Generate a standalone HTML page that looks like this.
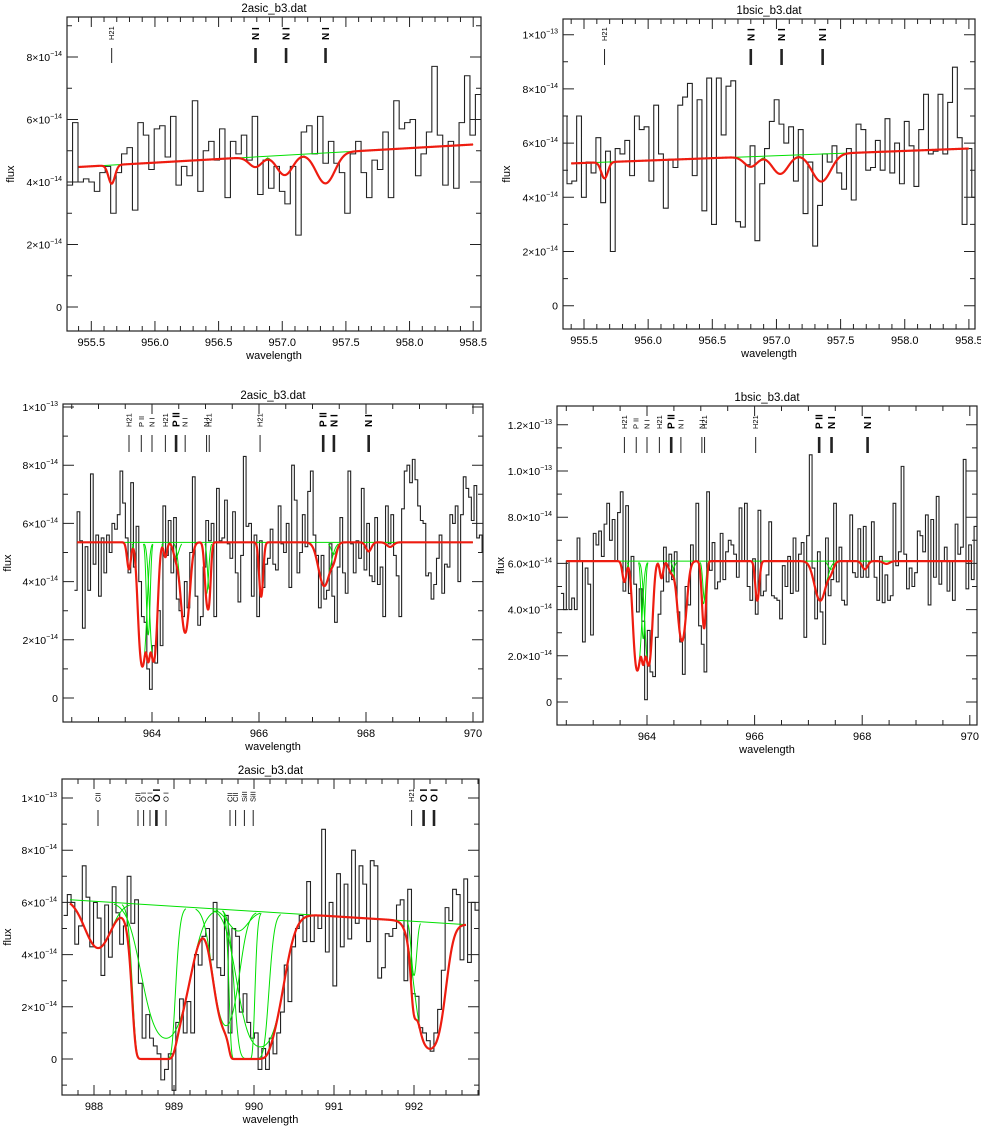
<!DOCTYPE html>
<html><head><meta charset="utf-8">
<style>
html,body{margin:0;padding:0;background:#fff;}
svg{display:block;font-family:"Liberation Sans",sans-serif;}
</style></head>
<body>
<svg id="chart" width="981" height="1127" viewBox="0 0 981 1127" xmlns="http://www.w3.org/2000/svg">
<rect x="0" y="0" width="981" height="1127" fill="#fff"/>
</svg>
<script>
// ---------- Panel 1 : 2asic_b3.dat (955-958.5) ----------
const p1Flux=[3.9,5.9,4.0,4.1,4.0,3.7,4.3,4.5,3.0,4.3,4.9,5.1,3.1,5.9,5.5,4.4,5.7,5.8,4.8,6.1,3.9,4.5,4.2,6.6,3.7,5.0,5.3,4.7,5.7,3.5,5.3,4.9,5.5,4.7,6.1,3.6,4.7,3.8,4.5,3.7,3.3,4.5,2.3,5.6,5.8,4.9,6.1,4.6,5.3,4.6,4.3,3.0,4.9,5.3,4.3,3.5,4.7,4.4,5.6,3.5,6.6,5.7,5.9,6.0,4.2,4.9,5.6,7.7,5.5,3.9,5.3,3.8,5.9,7.4,5.5,6.8];
const p1Range=[955.31,958.56];
const p1Cont=[4.48,5.2];
const p1ModelRange=[955.4,958.5];
const p1LineCenter=[955.66,956.79,957.02,957.34];
const p1LineTau=[0.14,0.07,0.14,0.22];
const p1LineSigma=[0.025,0.05,0.06,0.07];
const p1MarkWl=[955.66,956.79,957.03,957.34];
const p1MarkLabel=["H21","N I","N I","N I"];
const p1MarkBold=[0,1,1,1];
const p1XTicks=[955.5,956.0,956.5,957.0,957.5,958.0,958.5];
const p1XLabels=["955.5","956.0","956.5","957.0","957.5","958.0","958.5"];
const p1YTicks=[0,2,4,6,8];
const p1YLabels=["0","2×10^-14","4×10^-14","6×10^-14","8×10^-14"];

// ---------- Panel 2 : 1bsic_b3.dat (955-958.5) ----------
const p2Flux=[7.0,4.5,4.6,7.0,4.0,5.3,4.9,6.2,3.8,5.7,2.0,5.8,5.6,6.1,4.8,7.0,6.5,6.6,4.6,7.4,5.6,3.6,5.4,5.1,7.4,7.7,8.2,4.8,7.6,3.5,8.4,3.0,8.4,6.3,8.1,8.3,3.1,2.9,5.2,5.9,2.4,4.5,5.8,6.8,7.6,6.7,6.0,6.6,4.6,6.5,3.4,5.3,2.2,3.7,5.6,5.3,5.9,4.9,4.3,5.8,3.9,6.7,6.5,5.0,5.1,6.1,5.0,6.9,4.9,6.0,4.5,6.8,5.9,4.4,6.5,7.8,5.6,5.7,7.8,5.6,7.5,8.8,6.2,3.0,5.8,4.0];
const p2Range=[955.33,958.56];
const p2Cont=[5.25,5.8];
const p2ModelRange=[955.4,958.5];
const p2LineCenter=[955.66,956.8,957.03,957.35];
const p2LineTau=[0.12,0.07,0.13,0.2];
const p2LineSigma=[0.025,0.05,0.06,0.07];
const p2MarkWl=[955.66,956.8,957.04,957.36];
const p2MarkLabel=["H21","N I","N I","N I"];
const p2MarkBold=[0,1,1,1];
const p2XTicks=[955.5,956.0,956.5,957.0,957.5,958.0,958.5];
const p2XLabels=["955.5","956.0","956.5","957.0","957.5","958.0","958.5"];
const p2YTicks=[0,2,4,6,8,10];
const p2YLabels=["0","2×10^-14","4×10^-14","6×10^-14","8×10^-14","1×10^-13"];

// ---------- Panel 3 : 2asic_b3.dat (962.5-970) ----------
const p3Flux=[3.7,6.4,5.4,2.4,5.2,3.7,7.7,4.6,5.6,
3.5,5.5,4.3,5.6,5.0,6.0,5.8,6.3,7.8,6.7,
5.5,4.3,7.4,4.5,5.9,4.0,2.8,2.6,1.0,0.3,
1.8,1.2,3.0,1.8,6.6,4.9,6.1,4.3,6.2,3.4,
3.0,2.8,4.0,3.1,5.0,7.6,3.5,2.5,2.8,4.5,
6.1,5.4,6.0,2.8,7.2,5.4,5.5,6.8,5.3,4.8,
6.4,4.3,3.3,4.9,8.3,5.9,6.0,3.5,5.6,2.8,
5.4,3.8,4.6,4.8,5.8,4.6,4.4,6.6,5.3,5.0,
6.0,3.8,8.0,6.8,4.3,5.0,6.3,5.2,7.1,7.8,
5.6,4.9,3.1,4.9,3.4,3.7,5.3,3.5,2.6,4.5,
6.2,4.3,3.6,7.8,5.3,4.3,5.4,4.8,7.2,4.4,
6.0,4.2,4.0,6.2,3.9,4.5,2.8,6.6,5.3,6.3,
4.9,4.2,2.8,6.5,7.8,8.0,7.4,8.2,7.5,6.6,
6.1,6.0,4.2,4.3,3.4,3.9,4.8,5.6,3.6,4.6,
4.5,6.3,6.0,6.6,4.0,6.3,7.6,7.2,6.9,6.1,7.3,5.5,5.6,5.0];
const p3Range=[962.55,970.22];
const p3Cont=[5.35,5.35];
const p3ModelRange=[962.6,970.0];
const p3LineCenter=[963.57,963.82,963.93,964.03,964.25,964.45,964.62,965.02,965.07,966.04,967.22,967.40,968.05,968.45];
const p3LineTau=[0.19,1.6,0.9,1.45,0.1,0.1,0.87,0.4,0.36,0.43,0.33,0.08,0.06,0.03];
const p3LineSigma=[0.035,0.06,0.03,0.055,0.03,0.05,0.07,0.035,0.03,0.035,0.1,0.05,0.05,0.06];
const p3MarkWl=[963.57,963.8,964.0,964.25,964.45,964.62,965.02,965.07,966.02,967.2,967.4,968.05];
const p3MarkLabel=["H21","P II","N I","H21","P II","N I","N I","H21","H21","P II","N I","N I"];
const p3MarkBold=[0,0,0,0,1,0,0,0,0,1,1,1];
const p3XTicks=[964,966,968,970];
const p3XLabels=["964","966","968","970"];
const p3YTicks=[0,2,4,6,8,10];
const p3YLabels=["0","2×10^-14","4×10^-14","6×10^-14","8×10^-14","1×10^-13"];

// ---------- Panel 4 : 1bsic_b3.dat (962.5-970) ----------
const p4Flux=[4.7,4.0,6.1,4.0,4.5,4.0,7.1,6.1,2.6,5.8,5.1,2.9,
7.3,6.8,7.4,6.3,7.7,8.6,7.0,7.9,6.1,8.2,
9.1,4.8,8.5,4.7,6.3,5.1,3.9,4.9,3.5,0.1,
3.1,1.3,1.1,2.8,3.8,4.8,6.7,5.2,6.4,5.3,
6.5,3.9,2.6,1.2,5.0,4.2,6.8,6.1,8.6,3.3,
2.5,1.3,9.1,5.7,6.9,4.9,5.2,7.3,5.3,6.5,
7.0,6.8,6.4,5.4,8.4,6.1,8.6,5.0,4.4,6.2,
3.8,8.3,4.6,4.8,5.5,7.8,4.6,4.5,4.4,3.6,
5.9,5.0,6.3,4.7,7.1,4.8,6.4,6.9,2.8,7.2,
10.7,5.8,3.6,6.5,3.9,2.5,7.1,4.6,5.3,8.6,
5.2,6.7,4.4,4.2,6.1,8.1,5.6,5.4,7.5,5.4,
7.6,5.4,6.1,7.8,5.4,4.4,6.3,4.3,5.5,4.4,
4.6,8.6,5.9,6.5,10.2,6.4,4.9,5.8,5.0,5.6,
7.4,7.2,6.5,8.1,4.2,7.9,5.4,8.9,5.1,6.1,
6.7,4.8,6.1,4.4,7.7,6.4,6.7,10.5,4.9,6.8,5.3,7.6];
const p4Range=[962.4,970.13];
const p4Cont=[6.1,6.1];
const p4ModelRange=[962.5,970.05];
const p4LineCenter=[963.58,963.82,963.93,964.03,964.27,964.45,964.65,965.05,965.07,966.05,967.22,967.42,968.05,968.45];
const p4LineTau=[0.16,1.5,0.8,1.35,0.13,0.08,0.84,0.36,0.32,0.33,0.33,0.06,0.06,0.02];
const p4LineSigma=[0.035,0.06,0.03,0.055,0.03,0.05,0.07,0.035,0.03,0.035,0.1,0.05,0.05,0.06];
const p4MarkWl=[963.58,963.8,964.0,964.23,964.45,964.63,965.02,965.07,966.02,967.2,967.43,968.1];
const p4MarkLabel=["H21","P II","N I","H21","P II","N I","N I","H21","H21","P II","N I","N I"];
const p4MarkBold=[0,0,0,0,1,0,0,0,0,1,1,1];
const p4XTicks=[964,966,968,970];
const p4XLabels=["964","966","968","970"];
const p4YTicks=[0,2,4,6,8,10,12];
const p4YLabels=["0","2.0×10^-14","4.0×10^-14","6.0×10^-14","8.0×10^-14","1.0×10^-13","1.2×10^-13"];

// ---------- Panel 5 : 2asic_b3.dat (988-992.5) ----------
const p5Flux=[5.5,6.3,6.0,4.4,5.1,7.4,6.2,4.3,6.0,5.4,
3.2,5.9,3.9,6.6,5.6,4.4,5.1,7.0,5.2,6.1,
2.9,0.8,1.7,0.8,0.5,0.2,-0.8,-0.4,0.2,-1.2,
1.4,2.3,1.0,2.2,1.0,4.0,3.6,4.7,5.0,3.8,
6.0,3.5,3.2,5.5,1.0,5.0,4.7,1.8,2.5,1.4,
0.8,1.0,-0.4,0.4,-0.4,0.8,0.2,1.0,1.8,3.6,
2.2,4.3,5.0,5.5,4.5,6.8,4.5,5.5,5.0,8.8,
4.1,6.0,2.8,7.1,4.3,6.7,4.6,8.0,5.2,7.4,
6.7,4.5,7.6,7.4,3.1,3.5,4.8,4.7,5.0,5.9,
6.1,3.0,6.5,2.5,2.4,1.2,1.0,0.7,0.3,1.0,
1.9,3.4,5.8,5.3,6.5,6.3,3.8,6.9,3.7,6.0,5.7];
const p5Range=[987.62,992.81];
const p5Cont=[6.1,5.15];
const p5ModelRange=[987.7,992.65];
const p5LineCenter=[988.05,988.9,988.75,989.8,989.65,989.85,989.97,990.08,992.0,992.2];
const p5LineTau=[0.35,2.0,30,0.15,1.5,30,8,2.5,0.5,2.6];
const p5LineSigma=[0.15,0.2,0.1,0.12,0.12,0.06,0.1,0.18,0.03,0.12];
const p5MarkWl=[988.05,988.55,988.62,988.7,988.78,988.9,989.7,989.77,989.88,989.99,991.97,992.12,992.25];
const p5MarkLabel=["CII","CII","O I","O I","O I","O I","CII","CII","SiII","SiII","H21","O I","O I"];
const p5MarkBold=[0,0,0,0,1,0,0,0,0,0,0,1,1];
const p5XTicks=[988,989,990,991,992];
const p5XLabels=["988","989","990","991","992"];
const p5YTicks=[0,2,4,6,8,10];
const p5YLabels=["0","2×10^-14","4×10^-14","6×10^-14","8×10^-14","1×10^-13"];

const NS="http://www.w3.org/2000/svg";
const svg=document.getElementById('chart');
function el(tag,attrs,parent){const e=document.createElementNS(NS,tag);for(const k in attrs)e.setAttribute(k,attrs[k]);(parent||svg).appendChild(e);return e;}

const panels=[
 {id:'p1',title:'2asic_b3.dat',fr:[67,17,481,331],w0:955.5,x0:91.3,sx:127.3,y0:307,sy:31.25,xMinor:0.1,yMinor:1,flux:p1Flux,range:p1Range,cont:p1Cont,mr:p1ModelRange,lc:p1LineCenter,lt:p1LineTau,ls:p1LineSigma,mw:p1MarkWl,ml:p1MarkLabel,mb:p1MarkBold,xt:p1XTicks,xl:p1XLabels,yt:p1YTicks,yl:p1YLabels,mk:[48,63,40]},
 {id:'p2',title:'1bsic_b3.dat',fr:[563,19,975,329],w0:955.5,x0:584,sx:128.3,y0:305.7,sy:27.1,xMinor:0.1,yMinor:1,flux:p2Flux,range:p2Range,cont:p2Cont,mr:p2ModelRange,lc:p2LineCenter,lt:p2LineTau,ls:p2LineSigma,mw:p2MarkWl,ml:p2MarkLabel,mb:p2MarkBold,xt:p2XTicks,xl:p2XLabels,yt:p2YTicks,yl:p2YLabels,mk:[49,65,41]},
 {id:'p3',title:'2asic_b3.dat',fr:[63,404,483,722],w0:964,x0:152,sx:53.5,y0:698,sy:29.1,xMinor:0.5,yMinor:1,flux:p3Flux,range:p3Range,cont:p3Cont,mr:p3ModelRange,lc:p3LineCenter,lt:p3LineTau,ls:p3LineSigma,mw:p3MarkWl,ml:p3MarkLabel,mb:p3MarkBold,xt:p3XTicks,xl:p3XLabels,yt:p3YTicks,yl:p3YLabels,mk:[435,452,427]},
 {id:'p4',title:'1bsic_b3.dat',fr:[557,406,977,725],w0:964,x0:647,sx:53.8,y0:702,sy:23.1,xMinor:0.5,yMinor:1,flux:p4Flux,range:p4Range,cont:p4Cont,mr:p4ModelRange,lc:p4LineCenter,lt:p4LineTau,ls:p4LineSigma,mw:p4MarkWl,ml:p4MarkLabel,mb:p4MarkBold,xt:p4XTicks,xl:p4XLabels,yt:p4YTicks,yl:p4YLabels,mk:[437,453,429]},
 {id:'p5',title:'2asic_b3.dat',fr:[62,779,479,1095],w0:988,x0:94,sx:80,y0:1059,sy:26.1,xMinor:0.2,yMinor:1,flux:p5Flux,range:p5Range,cont:p5Cont,mr:p5ModelRange,lc:p5LineCenter,lt:p5LineTau,ls:p5LineSigma,mw:p5MarkWl,ml:p5MarkLabel,mb:p5MarkBold,xt:p5XTicks,xl:p5XLabels,yt:p5YTicks,yl:p5YLabels,mk:[810,826,802]}
];

panels.forEach(function(P){
 const X=w=>P.x0+(w-P.w0)*P.sx;
 const Y=v=>P.y0-v*P.sy;
 const [L,T,R,B]=P.fr;
 const g=el('g',{});
 
 
 const clip=el('clipPath',{id:'clip-'+P.id},g);
 el('rect',{x:L,y:T,width:R-L,height:B-T},clip);

 const t=el('text',{x:(L+R)/2,y:T-5,'text-anchor':'middle','font-size':'11.5'},g);
 t.textContent=P.title;
 
 

 const n=P.flux.length, bw=(P.range[1]-P.range[0])/n;
 let d='M'+X(P.range[0]).toFixed(2)+','+Y(P.flux[0]).toFixed(2);
 for(let i=0;i<n;i++){
  if(i>0) d+='V'+Y(P.flux[i]).toFixed(2);
  d+='H'+X(P.range[0]+(i+1)*bw).toFixed(2);
 }
 const hist=el('path',{d:d,fill:'none',stroke:'#222','stroke-width':'1.1','clip-path':'url(#clip-'+P.id+')'},g);
 
 

 const cont=w=>P.cont[0]+(P.cont[1]-P.cont[0])*(w-P.mr[0])/(P.mr[1]-P.mr[0]);
 const tauAt=(i,w)=>P.lt[i]*Math.exp(-0.5*Math.pow((w-P.lc[i])/P.ls[i],2));
 const gc=el('path',{d:'M'+X(P.mr[0])+','+Y(cont(P.mr[0]))+'L'+X(P.mr[1])+','+Y(cont(P.mr[1])),stroke:'#00e000','stroke-width':'1',fill:'none'},g);
 
 
 for(let i=0;i<P.lc.length;i++){
  const half=P.ls[i]*Math.sqrt(2*Math.log(Math.max(P.lt[i],0.011)/0.01));
  const a=Math.max(P.mr[0],P.lc[i]-half), b=Math.min(P.mr[1],P.lc[i]+half);
  let s='';
  for(let w=a;w<=b+1e-9;w+=0.003){s+=(s?'L':'M')+X(w).toFixed(2)+','+Y(cont(w)*Math.exp(-tauAt(i,w))).toFixed(2);}
  const c=el('path',{d:s,stroke:'#00e000','stroke-width':'1',fill:'none'},g);
  
  
 }
 let s='';
 for(let w=P.mr[0];w<=P.mr[1]+1e-9;w+=0.003){
  let tau=0;for(let i=0;i<P.lc.length;i++)tau+=tauAt(i,w);
  s+=(s?'L':'M')+X(w).toFixed(2)+','+Y(cont(w)*Math.exp(-tau)).toFixed(2);
 }
 const red=el('path',{d:s,stroke:'#ee1c10','stroke-width':'2.2',fill:'none','stroke-linejoin':'round'},g);
 
 

 const fr=el('rect',{x:L,y:T,width:R-L,height:B-T,fill:'none',stroke:'#222','stroke-width':'1.2'},g);
 
 

 let tk='';
 const wl=P.w0+(L-P.x0)/P.sx, wr=P.w0+(R-P.x0)/P.sx;
 for(let k=Math.ceil(wl/P.xMinor-1e-6);k*P.xMinor<=wr;k++){
  const w=k*P.xMinor,x=X(w).toFixed(2);
  const maj=P.xt.some(v=>Math.abs(v-w)<1e-6);
  const len=maj?10:5;
  tk+='M'+x+','+B+'v'+(-len)+'M'+x+','+T+'v'+len;
 }
 const ytop=(P.y0-T)/P.sy;
 for(let k=Math.ceil(-(B-P.y0)/P.sy/P.yMinor);k*P.yMinor<=ytop;k++){
  const v=k*P.yMinor,y=Y(v).toFixed(2);
  const maj=P.yt.some(u=>Math.abs(u-v)<1e-6);
  const len=maj?11:5;
  tk+='M'+L+','+y+'h'+len+'M'+R+','+y+'h'+(-len);
 }
 const ticks=el('path',{d:tk,stroke:'#222','stroke-width':'1',fill:'none'},g);
 
 

 P.xt.forEach(function(w,i){
  const tx=el('text',{x:X(w),y:B+15,'text-anchor':'middle','font-size':'11'},g);
  tx.textContent=P.xl[i];
  
  
 });
 P.yt.forEach(function(v,i){
  const parts=P.yl[i].split('^');
  const ty=el('text',{x:L-5,y:Y(v)+4,'text-anchor':'end','font-size':'10.5'},g);
  
  
  const a=el('tspan',{},ty);a.textContent=parts[0];
  if(parts[1]){const b=el('tspan',{'font-size':'7',dy:'-5'},ty);b.textContent=parts[1].replace('-','−');}
 });
 const xa=el('text',{x:(L+R)/2,y:B+28,'text-anchor':'middle','font-size':'11'},g);
 xa.textContent='wavelength';
 
 
 const ya=el('text',{x:0,y:0,'text-anchor':'middle','font-size':'11',transform:'translate('+Math.max(L-53,11)+','+((T+B)/2)+') rotate(-90)'},g);
 ya.textContent='flux';
 
 

 P.mw.forEach(function(w,i){
  const x=X(w);
  const bold=P.mb[i]===1;
  const m=el('line',{x1:x,x2:x,y1:P.mk[0],y2:P.mk[1],stroke:'#222','stroke-width':bold?'2.6':'1'},g);
  
  
  const lb=el('text',{x:0,y:0,'font-size':bold?'10':'7.5','font-weight':bold?'bold':'normal',transform:'translate('+(x+(bold?3.5:2.5))+','+P.mk[2]+') rotate(-90)'},g);
  lb.textContent=P.ml[i];
  
  
 });
});
</script>
</body></html>
